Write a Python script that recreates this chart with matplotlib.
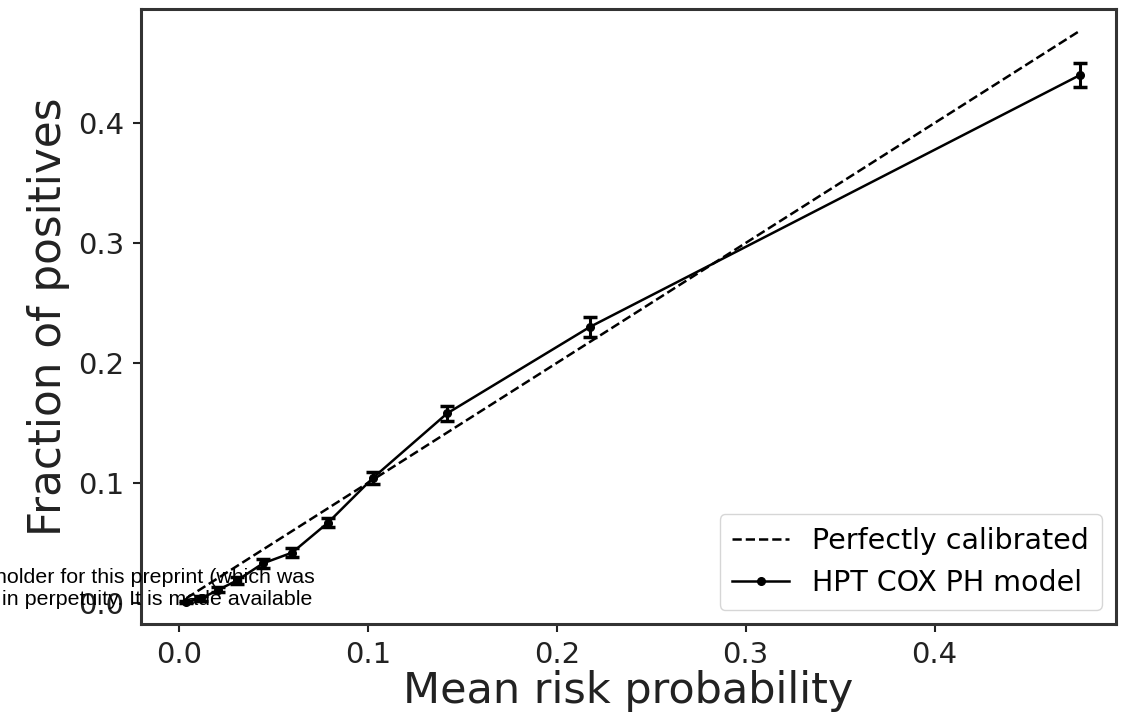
import matplotlib
matplotlib.use("Agg")
import matplotlib.pyplot as plt
import numpy as np

# calibration bins
mean_pred = [0.004, 0.012, 0.021, 0.031, 0.0445, 0.060, 0.079, 0.1026, 0.142, 0.2175, 0.477]
frac_pos = [0.001, 0.004, 0.011, 0.019, 0.033, 0.042, 0.067, 0.104, 0.158, 0.230, 0.440]
frac_err = [0.001, 0.002, 0.002, 0.003, 0.004, 0.004, 0.004, 0.005, 0.006, 0.008, 0.010]

x_ticks = [0.0, 0.1, 0.2, 0.3, 0.4]
y_ticks = [0.0, 0.1, 0.2, 0.3, 0.4]

fig = plt.figure(figsize=(11.29, 7.25), dpi=100)
ax = fig.add_axes([0.1249, 0.1393, 0.9885 - 0.1249, 0.9876 - 0.1393])

# reference diagonal
ax.plot([mean_pred[0], mean_pred[-1]], [mean_pred[0], mean_pred[-1]], "k--",
        lw=1.8, label="Perfectly calibrated")

# model curve
ax.errorbar(mean_pred, frac_pos, yerr=frac_err, fmt="none", ecolor="k",
            elinewidth=2.2, capsize=5, capthick=2.5)
ax.plot(mean_pred, frac_pos, "k-", marker=".", ms=11, lw=1.8,
        label="HPT COX PH model")

ax.set_xlim(-0.020, 0.496)
ax.set_ylim(-0.0175, 0.495)
ax.set_xticks(x_ticks)
ax.set_yticks(y_ticks)
ax.tick_params(labelsize=21, width=1.5, length=6, pad=6, colors="#222222")
for s in ax.spines.values():
    s.set_linewidth(2.2)
    s.set_color("#333333")

ax.set_xlabel("Mean risk probability", fontsize=31, labelpad=1, color="#222222")
ax.set_ylabel("Fraction of positives", fontsize=31.5, labelpad=6, color="#222222")

ax.legend(loc="lower right", fontsize=20.5, handlelength=2.0, borderpad=0.45,
          labelspacing=0.5)

# preprint watermark, cut off on the left
fig.text(315 / 1129, 1 - 583 / 725, "holder for this preprint (which was",
         ha="right", va="baseline", fontsize=15.4, family="Liberation Sans")
fig.text(312 / 1129, 1 - 605 / 725, "in perpetuity. It is made available",
         ha="right", va="baseline", fontsize=15.4, family="Liberation Sans")

fig.savefig("out.png", dpi=100)
